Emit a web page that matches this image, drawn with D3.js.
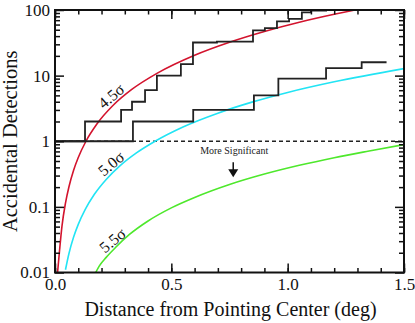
<!DOCTYPE html>
<html><head><meta charset="utf-8">
<script src="https://cdn.jsdelivr.net/npm/d3@7"></script>
<style>body{margin:0;background:#fff}svg{display:block}</style>
</head><body>
<svg id="c" width="415" height="323"></svg>
<script>
// ---- data ----
const xTicks = [0, 0.5, 1.0, 1.5];
const xTickLabels = ["0.0", "0.5", "1.0", "1.5"];
const yTicks = [0.01, 0.1, 1, 10, 100];
const yTickLabels = ["0.01", "0.1", "1", "10", "100"];

const stepA_x = [0, 0.129, 0.284, 0.331, 0.387, 0.438, 0.541, 0.593, 0.696, 0.851, 0.902, 0.954, 1.006, 1.061, 1.100, 1.169];
const stepA_n = [1, 2, 3, 4, 6, 10, 15, 32, 33, 49, 53, 67, 73, 92, 98, 98];
const stepB_x = [0, 0.335, 0.594, 0.855, 0.960, 1.165, 1.318, 1.425];
const stepB_n = [1, 2, 3, 5, 9, 13, 16, 16];

const red_x = [0.011, 0.02, 0.03, 0.045, 0.06, 0.08, 0.10, 0.133, 0.18, 0.25, 0.33, 0.44, 0.60, 0.75, 0.90, 1.05, 1.20, 1.29, 1.36];
const red_y = [0.01, 0.0226, 0.051, 0.114, 0.203, 0.362, 0.565, 1.0, 1.83, 3.53, 6.15, 10.9, 20.4, 32.2, 47, 65, 86, 100, 112];
const cyan_x = [0.045, 0.06, 0.08, 0.10, 0.13, 0.17, 0.22, 0.28, 0.35, 0.43, 0.55, 0.70, 0.85, 1.0, 1.2, 1.5];
const cyan_y = [0.011, 0.0195, 0.0347, 0.0542, 0.0916, 0.157, 0.262, 0.425, 0.664, 1.0, 1.65, 2.68, 3.98, 5.55, 8.06, 12.8];
const green_x = [0.175, 0.19, 0.22, 0.26, 0.32, 0.40, 0.50, 0.60, 0.75, 0.90, 1.05, 1.20, 1.35, 1.5];
const green_y = [0.01, 0.0125, 0.017, 0.024, 0.038, 0.061, 0.0965, 0.139, 0.219, 0.316, 0.43, 0.562, 0.711, 0.89];

const curveLabels = ["4.5σ", "5.0σ", "5.5σ"];
const curveLabelPos = [[0.241, 4.9], [0.241, 0.457], [0.247, 0.031]];

// ---- layout ----
const svg = d3.select("#c");
const L = 55, R = 404, T = 10, B = 272.5;
const x = d3.scaleLinear().domain([0, 1.5]).range([L, R]);
const y = d3.scaleLog().domain([0.01, 100]).range([B, T]);
const font = "'Liberation Serif','Times New Roman',serif";

svg.append("defs").append("clipPath").attr("id", "clip")
  .append("rect").attr("x", L).attr("y", T).attr("width", R - L).attr("height", B - T);

const plot = svg.append("g").attr("clip-path", "url(#clip)");

// dashed line at 1
plot.append("line").attr("x1", x(0)).attr("x2", x(1.5)).attr("y1", y(1)).attr("y2", y(1))
  .attr("stroke", "#222").attr("stroke-width", 1.3).attr("stroke-dasharray", "4,3");

const curve = (xs, ys) => d3.line().x((d, i) => x(xs[i])).y((d, i) => y(ys[i])).curve(d3.curveMonotoneX)(xs);
plot.append("path").attr("d", curve(red_x, red_y)).attr("fill", "none").attr("stroke", "#d3142e").attr("stroke-width", 1.6);
plot.append("path").attr("d", curve(cyan_x, cyan_y)).attr("fill", "none").attr("stroke", "#22e4f4").attr("stroke-width", 1.6);
plot.append("path").attr("d", curve(green_x, green_y)).attr("fill", "none").attr("stroke", "#4ee82c").attr("stroke-width", 1.6);

const step = (xs, ns) => d3.line().x((d, i) => x(xs[i])).y((d, i) => y(ns[i])).curve(d3.curveStepAfter)(xs);
plot.append("path").attr("d", step(stepA_x, stepA_n)).attr("fill", "none").attr("stroke", "#222").attr("stroke-width", 1.8);
plot.append("path").attr("d", step(stepB_x, stepB_n)).attr("fill", "none").attr("stroke", "#222").attr("stroke-width", 1.8);

// curve labels
curveLabels.forEach((t, i) => {
  svg.append("text").attr("transform", `translate(${x(curveLabelPos[i][0])},${y(curveLabelPos[i][1])}) rotate(-40)`)
    .attr("text-anchor", "middle").attr("dy", "0.35em").attr("font-family", font).attr("font-size", 16).attr("fill", "#111").text(t);
});

// More Significant
svg.append("text").attr("x", x(0.77)).attr("y", y(1) + 13).attr("text-anchor", "middle")
  .attr("font-family", font).attr("font-size", 10).attr("fill", "#222").text("More Significant");
const ax = x(0.766);
svg.append("line").attr("x1", ax).attr("x2", ax).attr("y1", y(1) + 21).attr("y2", y(1) + 29)
  .attr("stroke", "#111").attr("stroke-width", 1.5);
svg.append("path").attr("d", `M${ax - 5},${y(1) + 28} L${ax + 5},${y(1) + 28} L${ax},${y(1) + 36} Z`).attr("fill", "#111");

// axes
const minorX = d3.range(0, 1.5001, 0.1).map(v => +v.toFixed(2));
const minorY = [];
[0.01, 0.1, 1, 10].forEach(d => { for (let k = 2; k <= 9; k++) minorY.push(d * k); });

function styleAxis(g) {
  g.select(".domain").remove();
  g.selectAll("line").attr("stroke", "#111").attr("stroke-width", 1.5);
  g.selectAll("text").attr("font-family", font).attr("font-size", 17).attr("fill", "#111");
}
// bottom
svg.append("g").attr("transform", `translate(0,${B})`)
  .call(d3.axisBottom(x).tickValues(minorX).tickSize(-4.5).tickFormat("")).call(styleAxis);
svg.append("g").attr("transform", `translate(0,${B})`)
  .call(d3.axisBottom(x).tickValues(xTicks).tickSize(-9).tickPadding(5.5).tickFormat((d, i) => xTickLabels[i])).call(styleAxis);
// top
svg.append("g").attr("transform", `translate(0,${T})`)
  .call(d3.axisTop(x).tickValues(minorX).tickSize(-4.5).tickFormat("")).call(styleAxis);
svg.append("g").attr("transform", `translate(0,${T})`)
  .call(d3.axisTop(x).tickValues(xTicks).tickSize(-9).tickFormat("")).call(styleAxis);
// left
svg.append("g").attr("transform", `translate(${L},0)`)
  .call(d3.axisLeft(y).tickValues(minorY).tickSize(-5).tickFormat("")).call(styleAxis);
svg.append("g").attr("transform", `translate(${L},0)`)
  .call(d3.axisLeft(y).tickValues(yTicks).tickSize(-9).tickPadding(5).tickFormat((d, i) => yTickLabels[i])).call(styleAxis);
// right
svg.append("g").attr("transform", `translate(${R},0)`)
  .call(d3.axisRight(y).tickValues(minorY).tickSize(-5).tickFormat("")).call(styleAxis);
svg.append("g").attr("transform", `translate(${R},0)`)
  .call(d3.axisRight(y).tickValues(yTicks).tickSize(-9).tickFormat("")).call(styleAxis);

// frame
svg.append("rect").attr("x", L).attr("y", T).attr("width", R - L).attr("height", B - T)
  .attr("fill", "none").attr("stroke", "#111").attr("stroke-width", 2);

// axis titles
svg.append("text").attr("x", (L + R) / 2 + 1).attr("y", 316).attr("text-anchor", "middle")
  .attr("font-family", font).attr("font-size", 20).attr("fill", "#111").text("Distance from Pointing Center (deg)");
svg.append("text").attr("transform", `translate(17,${(T + B) / 2}) rotate(-90)`).attr("text-anchor", "middle")
  .attr("font-family", font).attr("font-size", 20.5).attr("fill", "#111").text("Accidental Detections");
</script>
</body></html>
